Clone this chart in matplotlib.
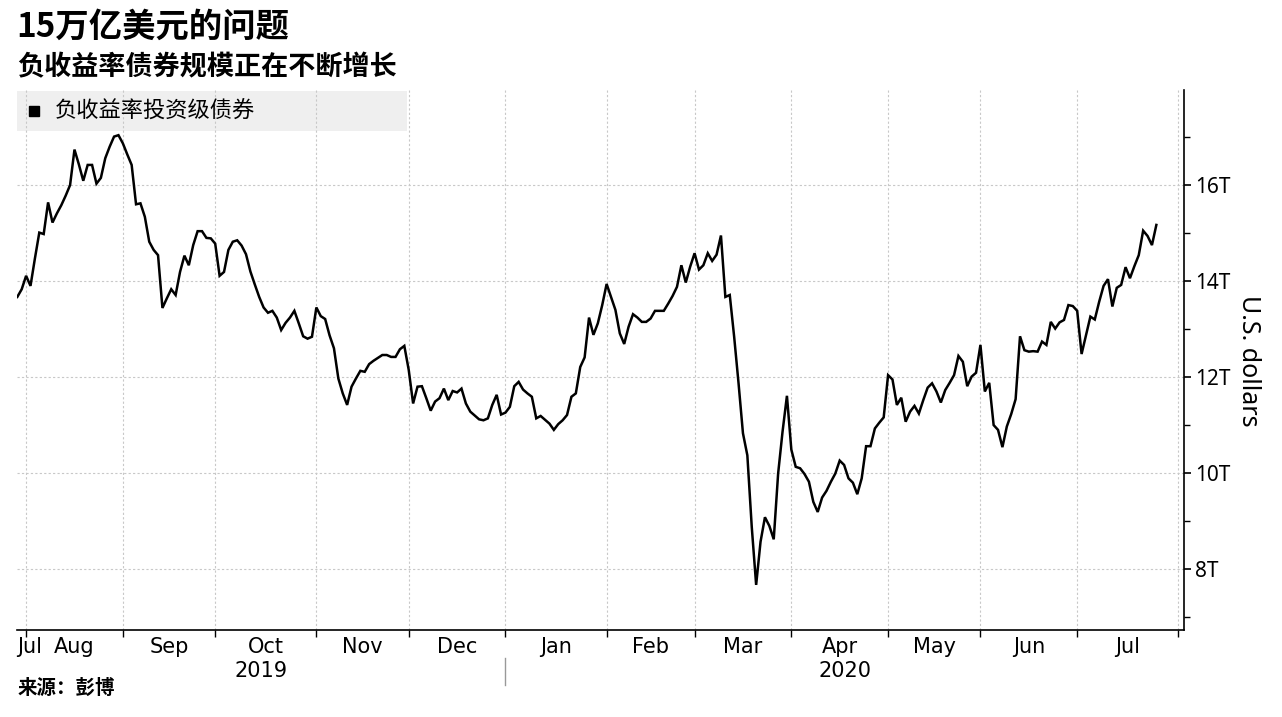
import numpy as np
import pandas as pd
import matplotlib
matplotlib.use("Agg")
import matplotlib.pyplot as plt
from matplotlib.patches import Rectangle
from matplotlib import transforms

plt.rcParams['font.family'] = ['Noto Sans CJK SC', 'DejaVu Sans']

# 负收益率投资级债券 (trillion USD), one value per business day, month by month
jul_2019 = [13.67, 13.83]
aug_2019 = [14.11, 13.90, 14.47, 15.01, 14.98, 15.64, 15.22, 15.41, 15.58, 15.78, 16.00,
            16.74, 16.43, 16.09, 16.42, 16.42, 16.03, 16.15, 16.56, 16.80, 17.01, 17.04]
sep_2019 = [16.87, 16.64, 16.42, 15.60, 15.62, 15.34, 14.82, 14.65, 14.54, 13.44, 13.64,
            13.83, 13.71, 14.19, 14.53, 14.33, 14.75, 15.04, 15.04, 14.90, 14.89]
oct_2019 = [14.78, 14.11, 14.19, 14.65, 14.82, 14.85, 14.74, 14.56, 14.20, 13.93, 13.67, 13.45,
            13.34, 13.38, 13.24, 12.98, 13.13, 13.24, 13.38, 13.12, 12.85, 12.80, 12.84]
nov_2019 = [13.45, 13.27, 13.21, 12.87, 12.60, 11.97, 11.66, 11.42, 11.80, 11.97, 12.13,
            12.11, 12.27, 12.34, 12.40, 12.46, 12.46, 12.42, 12.42, 12.58, 12.65]
dec_2019 = [12.15, 11.45, 11.80, 11.81, 11.56, 11.30, 11.49, 11.56, 11.76, 11.52, 11.71,
            11.68, 11.76, 11.45, 11.28, 11.20, 11.12, 11.10, 11.14, 11.42, 11.63, 11.22]
jan_2020 = [11.26, 11.38, 11.81, 11.90, 11.74, 11.66, 11.59, 11.14, 11.19, 11.11, 11.03, 10.90,
            11.02, 11.10, 11.21, 11.59, 11.66, 12.21, 12.41, 13.24, 12.88, 13.12, 13.50]
feb_2020 = [13.94, 13.67, 13.40, 12.91, 12.69, 13.05, 13.31, 13.24, 13.15, 13.15,
            13.22, 13.38, 13.38, 13.38, 13.53, 13.69, 13.88, 14.33, 13.97, 14.30]
mar_2020 = [14.58, 14.24, 14.33, 14.58, 14.42, 14.55, 14.95, 13.67, 13.71, 12.84, 11.87,
            10.83, 10.37, 8.88, 7.67, 8.57, 9.08, 8.90, 8.62, 9.99, 10.86, 11.61]
apr_2020 = [10.49, 10.13, 10.10, 9.98, 9.82, 9.40, 9.19, 9.49, 9.63, 9.82, 9.99,
            10.26, 10.17, 9.89, 9.80, 9.56, 9.89, 10.56, 10.56, 10.93, 11.05, 11.16]
may_2020 = [12.04, 11.95, 11.42, 11.57, 11.07, 11.28, 11.40, 11.24, 11.52, 11.78, 11.87,
            11.70, 11.47, 11.73, 11.88, 12.04, 12.44, 12.32, 11.81, 12.01, 12.09]
jun_2020 = [12.67, 11.70, 11.88, 11.00, 10.90, 10.54, 10.97, 11.23, 11.54, 12.85, 12.56,
            12.53, 12.54, 12.53, 12.74, 12.67, 13.15, 13.01, 13.14, 13.19, 13.50, 13.48]
jul_2020 = [13.38, 12.48, 12.87, 13.26, 13.20, 13.57, 13.90, 14.04, 13.47, 13.86,
            13.92, 14.29, 14.06, 14.31, 14.54, 15.05, 14.94, 14.75, 15.17]

month_starts = ['2019-07-30', '2019-08-01', '2019-09-01', '2019-10-01', '2019-11-01', '2019-12-01',
                '2020-01-01', '2020-02-01', '2020-03-01', '2020-04-01', '2020-05-01', '2020-06-01',
                '2020-07-01']
month_names = ['Jul', 'Aug', 'Sep', 'Oct', 'Nov', 'Dec', 'Jan', 'Feb', 'Mar', 'Apr', 'May', 'Jun', 'Jul']
month_values = [jul_2019, aug_2019, sep_2019, oct_2019, nov_2019, dec_2019, jan_2020,
                feb_2020, mar_2020, apr_2020, may_2020, jun_2020, jul_2020]

y_ticks = [8, 10, 12, 14, 16]
y_labels = ['8T', '10T', '12T', '14T', '16T']

# build the series on a business-day axis
frames = []
for start, vals in zip(month_starts, month_values):
    frames.append(pd.Series(vals, index=pd.bdate_range(start, periods=len(vals))))
s = pd.concat(frames)
x = np.arange(len(s))

# month boundaries (index of first business day of each month)
bounds = []
pos = 0
for vals in month_values:
    bounds.append(pos)
    pos += len(vals)
bounds = bounds[1:]
aug_2020 = len(s) + len(pd.bdate_range(s.index[-1] + pd.Timedelta(days=1), '2020-07-31'))
bounds.append(aug_2020)
edges = [0] + bounds

fig = plt.figure(figsize=(12.82, 7.17), dpi=100)
ax = fig.add_axes([0.0135, 0.1213, 0.9101, 0.7531])
ax.set_axisbelow(True)

ax.plot(x, s.values, color='black', lw=1.8, zorder=3, solid_joinstyle='miter')

ax.set_xlim(0, 265.3)
ax.set_ylim(6.73, 17.98)

for side in ['left', 'top']:
    ax.spines[side].set_visible(False)
ax.spines['right'].set_linewidth(1.2)
ax.spines['bottom'].set_linewidth(1.2)

ax.yaxis.tick_right()
ax.set_yticks(y_ticks)
ax.set_yticklabels(y_labels)
ax.set_yticks([7, 9, 11, 13, 15, 17], minor=True)
ax.tick_params(axis='y', which='major', length=5, width=1.2, pad=3, labelsize=15)
ax.tick_params(axis='y', which='minor', length=4, width=1)
for lbl in ax.get_yticklabels():
    lbl.set_fontfamily(['Noto Sans'])

ax.set_xticks(bounds)
ax.tick_params(axis='x', which='major', length=5, width=1, labelbottom=False)

ax.grid(True, color='#c8c8c8', linestyle=(0, (2, 2)), lw=0.8)

# month labels centred in each month
trans = transforms.blended_transform_factory(ax.transData, ax.transAxes)
for i, name in enumerate(month_names):
    if i == 0:
        ax.text(0, -0.012, name, transform=trans, ha='left', va='top', fontsize=15,
                family=['DejaVu Sans'])
    else:
        mid = (edges[i] + edges[i + 1]) / 2
        ax.text(mid, -0.012, name, transform=trans, ha='center', va='top', fontsize=15,
                family=['DejaVu Sans'])

jan_pos = edges[6]
ax.text(jan_pos / 2, -0.057, '2019', transform=trans, ha='center', va='top', fontsize=15,
        family=['DejaVu Sans'])
ax.text((jan_pos + 265.3) / 2, -0.057, '2020', transform=trans, ha='center', va='top', fontsize=15,
        family=['DejaVu Sans'])
ax.plot([jan_pos, jan_pos], [-0.052, -0.102], transform=trans, color='#999999', lw=1, clip_on=False)

# legend box
ax.add_patch(Rectangle((0, 0.924), 0.334, 0.074, transform=ax.transAxes,
                       facecolor='#efefef', edgecolor='none', zorder=0.2))
ax.plot([0.0143], [0.961], transform=ax.transAxes, marker='s', color='black',
        markersize=7, linestyle='none', zorder=4)
ax.text(0.0323, 0.961, '负收益率投资级债券', transform=ax.transAxes, ha='left', va='center',
        fontsize=16, zorder=4)

fig.text(1248 / 1282, 0.4965, 'U.S. dollars', rotation=270, ha='center', va='center',
         fontsize=18, family=['Noto Sans'])

fig.text(0.013, 0.985, '15万亿美元的问题', ha='left', va='top', fontsize=24, fontweight='black')
fig.text(0.013, 0.925, '负收益率债券规模正在不断增长', ha='left', va='top', fontsize=19.5, fontweight='black')
fig.text(0.014, 0.040, '来源：彭博', ha='left', va='center', fontsize=14, fontweight='black')

fig.savefig('out.png', dpi=100)
